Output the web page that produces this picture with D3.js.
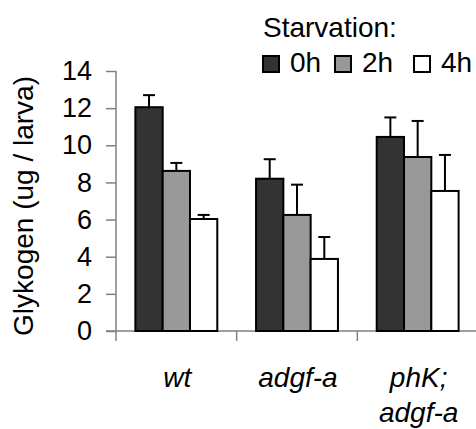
<!DOCTYPE html>
<html>
<head>
<meta charset="utf-8">
<script src="https://cdn.jsdelivr.net/npm/d3@7"></script>
<style>
  body { margin: 0; background: #fff; }
  svg { display: block; font-family: "Liberation Sans", Arial, sans-serif; }
</style>
</head>
<body>
<svg class="chart" width="476" height="429"></svg>
<script>
var width = 476,
	height = 429;

// data
var categories = ['wt', 'adgf-a', 'phK;\nadgf-a'];
var seriesNames = ['0h', '2h', '4h'];
var seriesColors = ['#333333', '#999999', '#ffffff'];
var mean0h = [12.05, 8.2, 10.45];
var mean2h = [8.62, 6.25, 9.37];
var mean4h = [6.03, 3.88, 7.54];
var err0h = [0.65, 1.05, 1.05];
var err2h = [0.43, 1.63, 1.94];
var err4h = [0.22, 1.18, 1.94];
var yTicks = [0, 2, 4, 6, 8, 10, 12, 14];

var means = [mean0h, mean2h, mean4h];
var errs = [err0h, err2h, err4h];

var rows = [];
categories.forEach(function(c, i) {
	seriesNames.forEach(function(s, j) {
		rows.push({cat: c, series: s, idx: j, value: means[j][i], err: errs[j][i]});
	});
});

// scales
var xScale = d3.scaleBand()
	.domain(categories)
	.range([116, 478])
	.paddingInner(0);

var xInner = d3.scaleBand()
	.domain(seriesNames)
	.range([0, xScale.bandwidth()])
	.paddingInner(0)
	.paddingOuter(0.71);

var yScale = d3.scaleLinear()
	.domain([0, 14])
	.range([331, 71]);

var chart = d3.select('.chart');

// y axis
var yAxis = chart.append('g')
	.attr('transform', 'translate(116,0)')
	.call(d3.axisLeft(yScale).tickValues(yTicks).tickSize(10).tickPadding(14).tickSizeOuter(0));
yAxis.select('.domain').attr('stroke', '#808080').attr('stroke-width', 1.5)
	.attr('d', 'M0,' + yScale(14) + 'V' + (yScale(0) + 10));
yAxis.selectAll('.tick line').attr('stroke', '#808080').attr('stroke-width', 1.5);
yAxis.selectAll('.tick text')
	.attr('font-size', 27)
	.attr('font-family', '"Liberation Sans", Arial, sans-serif')
	.attr('fill', '#000');

// x axis line + boundary ticks
var xAxisG = chart.append('g');
xAxisG.append('line')
	.attr('x1', 106).attr('x2', width)
	.attr('y1', yScale(0)).attr('y2', yScale(0))
	.attr('stroke', '#808080').attr('stroke-width', 1.5);
xAxisG.selectAll('.xtick')
	.data(categories.slice(1))
	.enter()
	.append('line')
	.attr('class', 'xtick')
	.attr('x1', d => xScale(d)).attr('x2', d => xScale(d))
	.attr('y1', yScale(0)).attr('y2', yScale(0) + 10)
	.attr('stroke', '#808080').attr('stroke-width', 1.5);

// bars
var bars = chart.append('g').selectAll('rect')
	.data(rows)
	.enter()
	.append('rect')
	.attr('x', d => xScale(d.cat) + xInner(d.series))
	.attr('y', d => yScale(d.value))
	.attr('width', xInner.bandwidth())
	.attr('height', d => yScale(0) - yScale(d.value))
	.attr('fill', d => seriesColors[d.idx])
	.attr('stroke', '#000')
	.attr('stroke-width', 2);

// error bars
var errG = chart.append('g').selectAll('g')
	.data(rows)
	.enter()
	.append('g')
	.attr('stroke', '#000')
	.attr('stroke-width', 2);
errG.append('line')
	.attr('x1', d => xScale(d.cat) + xInner(d.series) + xInner.bandwidth() / 2)
	.attr('x2', d => xScale(d.cat) + xInner(d.series) + xInner.bandwidth() / 2)
	.attr('y1', d => yScale(d.value))
	.attr('y2', d => yScale(d.value + d.err));
errG.append('line')
	.attr('x1', d => xScale(d.cat) + xInner(d.series) + xInner.bandwidth() / 2 - 6)
	.attr('x2', d => xScale(d.cat) + xInner(d.series) + xInner.bandwidth() / 2 + 6)
	.attr('y1', d => yScale(d.value + d.err))
	.attr('y2', d => yScale(d.value + d.err));

// category labels
var catLabels = chart.append('g').selectAll('text')
	.data(categories)
	.enter()
	.append('text')
	.attr('text-anchor', 'middle')
	.attr('font-size', 28)
	.attr('font-style', 'italic')
	.attr('fill', '#000');
catLabels.each(function(d) {
	var t = d3.select(this);
	var cx = xScale(d) + xScale.bandwidth() / 2 + 1;
	d.split('\n').forEach(function(line, i) {
		t.append('tspan')
			.attr('x', cx)
			.attr('y', 387 + i * 35)
			.text(line);
	});
});

// y title
chart.append('text')
	.attr('transform', 'translate(33,' + 206 + ') rotate(-90)')
	.attr('text-anchor', 'middle')
	.attr('font-size', 28)
	.attr('fill', '#000')
	.text('Glykogen (ug / larva)');

// legend
chart.append('text')
	.attr('x', 263)
	.attr('y', 37)
	.attr('font-size', 28)
	.attr('fill', '#000')
	.text('Starvation:');

var legendX = [262, 334, 413];
var legend = chart.append('g').selectAll('g')
	.data(seriesNames)
	.enter()
	.append('g')
	.attr('transform', (d, i) => 'translate(' + legendX[i] + ',0)');
legend.append('rect')
	.attr('x', 1)
	.attr('y', 56)
	.attr('width', 16)
	.attr('height', 16)
	.attr('fill', (d, i) => seriesColors[i])
	.attr('stroke', '#000')
	.attr('stroke-width', 2);
legend.append('text')
	.attr('x', 28)
	.attr('y', 72)
	.attr('font-size', 28)
	.attr('fill', '#000')
	.text(d => d);
</script>
</body>
</html>
